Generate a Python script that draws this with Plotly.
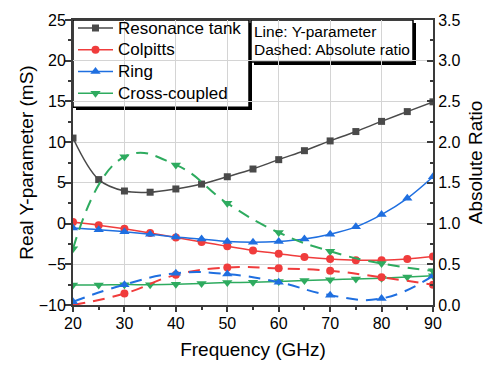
import plotly.graph_objects as go

# Frequency sweep (GHz)
freq = [20, 25, 30, 35, 40, 45, 50, 55, 60, 65, 70, 75, 80, 85, 90]
freq_ratio = [20, 30, 40, 50, 60, 70, 80, 90]

# Real part of the Y-parameter (mS)
y_tank = [10.5, 5.4, 4.0, 3.85, 4.25, 4.85, 5.75, 6.7, 7.85, 8.95, 10.15, 11.3, 12.55, 13.75, 14.95]
y_colpitts = [0.2, -0.2, -0.65, -1.15, -1.7, -2.25, -2.8, -3.3, -3.7, -4.1, -4.35, -4.5, -4.5, -4.35, -4.05]
y_ring = [-0.55, -0.75, -1.0, -1.3, -1.65, -1.9, -2.2, -2.3, -2.2, -1.9, -1.3, -0.4, 1.1, 3.1, 5.75]
y_cross = [-7.55, -7.55, -7.5, -7.5, -7.45, -7.35, -7.25, -7.2, -7.1, -7.0, -6.9, -6.8, -6.7, -6.55, -6.4]

# Absolute ratio
r_colpitts = [0.0, 0.14, 0.37, 0.46, 0.45, 0.42, 0.34, 0.25]
r_ring = [0.04, 0.25, 0.39, 0.38, 0.28, 0.12, 0.08, 0.36]
r_cross = [0.69, 1.82, 1.72, 1.25, 0.89, 0.66, 0.51, 0.42]

names = ["Resonance tank", "Colpitts", "Ring", "Cross-coupled"]
colors = ["#4a4a4a", "#f03c3c", "#1f6fe0", "#2eab5f"]
symbols = ["square", "circle", "triangle-up", "triangle-down"]
msizes = [7, 8, 9, 9]

FONT = "Liberation Sans, Arial, sans-serif"
AX = "#3a3a3a"

fig = go.Figure()

for name, ys, c, s, ms in zip(names, [y_tank, y_colpitts, y_ring, y_cross], colors, symbols, msizes):
    fig.add_trace(go.Scatter(
        x=freq, y=ys, mode="lines+markers",
        # legend rows are spaced for 14.4px text, the label itself is 17px
        name="<span style='font-size:17px'>%s</span>" % name,
        line=dict(color=c, width=1.5, shape="spline", smoothing=1.0),
        marker=dict(symbol=s, size=ms, color=c),
    ))

for rs, c, s, ms in zip([r_colpitts, r_ring, r_cross], colors[1:], symbols[1:], msizes[1:]):
    fig.add_trace(go.Scatter(
        x=freq_ratio, y=rs, yaxis="y2", mode="lines+markers", showlegend=False,
        line=dict(color=c, width=2, dash="12px,8px", shape="spline", smoothing=1.3),
        marker=dict(symbol=s, size=ms, color=c),
    ))

tickfont = dict(family=FONT, size=16, color="black")
titlefont = dict(family=FONT, size=19, color="black")

fig.update_layout(
    width=490, height=367,
    margin=dict(l=73, r=57, t=14, b=62),
    paper_bgcolor="white", plot_bgcolor="white",
    font=dict(family=FONT, color="black"),
    xaxis=dict(
        range=[20, 90], dtick=10, tick0=20, automargin=False,
        showline=True, linecolor=AX, linewidth=2, mirror=True,
        ticks="outside", ticklen=5, tickwidth=1.5, tickcolor=AX,
        minor=dict(dtick=5, ticks="outside", ticklen=3, tickcolor=AX, showgrid=False),
        showgrid=True, gridcolor="#d4d4d4", gridwidth=1, zeroline=False,
        tickfont=tickfont, ticklabelstandoff=-2,
        title=dict(text="Frequency (GHz)", font=titlefont, standoff=11),
    ),
    yaxis=dict(
        range=[-10, 25], dtick=5, automargin=False,
        showline=True, linecolor=AX, linewidth=2, mirror=True,
        ticks="outside", ticklen=6, tickwidth=1.5, tickcolor=AX,
        minor=dict(dtick=2.5, ticks="outside", ticklen=3, tickcolor=AX, showgrid=False),
        showgrid=True, gridcolor="#d4d4d4", gridwidth=1, zeroline=False,
        tickfont=tickfont, ticklabelstandoff=-4,
        title=dict(text="Real Y-parameter (mS)", font=titlefont, standoff=0),
    ),
    yaxis2=dict(
        range=[0, 3.5], dtick=0.5, tickformat=".1f", automargin=False,
        overlaying="y", side="right",
        showline=True, linecolor=AX, linewidth=2,
        ticks="inside", ticklen=6, tickwidth=1.5, tickcolor=AX,
        minor=dict(dtick=0.25, ticks="inside", ticklen=3, tickcolor=AX, showgrid=False),
        showgrid=False, zeroline=False,
        tickfont=tickfont,
        title=dict(text="Absolute Ratio", font=titlefont, standoff=9),
    ),
    legend=dict(
        x=0, y=1.0275, xanchor="left", yanchor="top",
        bgcolor="rgba(0,0,0,0)", borderwidth=0,
        font=dict(family=FONT, size=14.4, color="black"),
        tracegroupgap=0, itemwidth=35,
    ),
    showlegend=True,
)

def px_x(p):
    return (p - 73) / 360.0

def px_y(p):
    return (305 - p) / 291.0

def boxed(x0, x1, y0, y1):
    # drop shadow, then the white panel with its border (above the grid, below the traces)
    fig.add_shape(type="rect", xref="paper", yref="paper",
                  x0=px_x(x0 + 3), x1=px_x(x1 + 3), y0=px_y(y1 + 3), y1=px_y(y0 + 3),
                  fillcolor="black", line=dict(width=0), layer="between")
    fig.add_shape(type="rect", xref="paper", yref="paper",
                  x0=px_x(x0), x1=px_x(x1), y0=px_y(y1), y1=px_y(y0),
                  fillcolor="white", line=dict(color="black", width=1.5), layer="between")

boxed(73, 249, 14, 103)
boxed(251, 413, 14, 57)

for line, yy in zip(["Line: Y-parameter", "Dashed: Absolute ratio"], [26, 44.5]):
    fig.add_annotation(xref="paper", yref="paper", x=px_x(252), y=px_y(yy),
                       xanchor="left", yanchor="middle", text=line, showarrow=False,
                       font=dict(family=FONT, size=15.5, color="black"))

fig.write_html("out.html")
